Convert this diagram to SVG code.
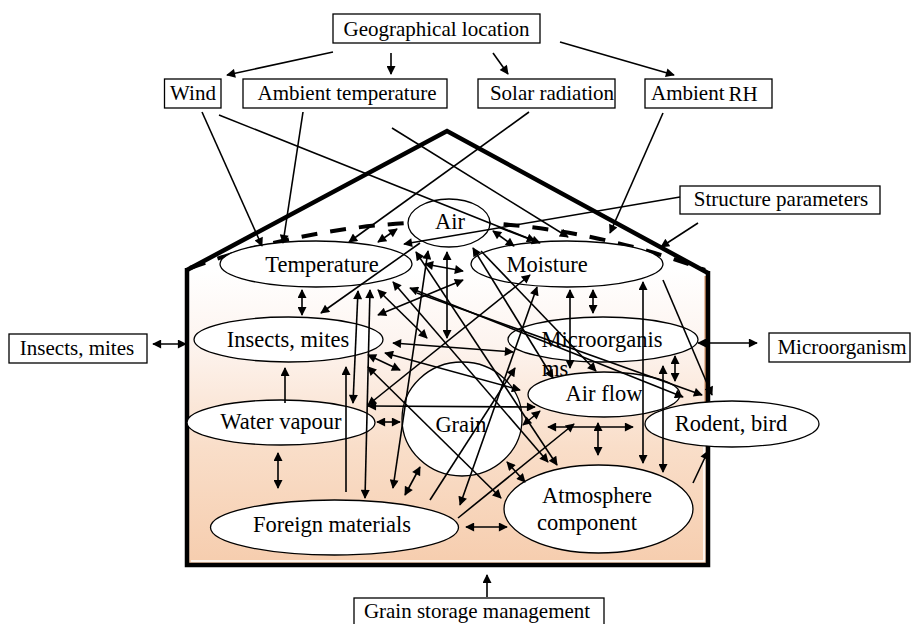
<svg xmlns="http://www.w3.org/2000/svg" width="911" height="624" viewBox="0 0 911 624">
<defs>
<style>
.lbl{font-family:"Liberation Serif","Times New Roman",serif;font-size:21px;fill:#000;text-anchor:middle}
.elb{font-size:22.5px}
.box{fill:#fff;stroke:#000;stroke-width:1.3}
.node ellipse{fill:#fff;stroke:#000;stroke-width:1.3}
#connectors line{stroke:#000;stroke-width:1.6;fill:none}
.e{marker-end:url(#ah)}
.d{marker-start:url(#ah);marker-end:url(#ah)}
</style>
<marker id="ah" viewBox="0 0 10 10" refX="9" refY="5" markerWidth="12" markerHeight="9" markerUnits="userSpaceOnUse" orient="auto-start-reverse">
<path d="M0,0 L10,5 L0,10 z" fill="#000"/>
</marker>
<linearGradient id="bg" x1="0" y1="0" x2="0" y2="1">
<stop offset="0" stop-color="#ffffff"/>
<stop offset="0.25" stop-color="#fdf4ef"/>
<stop offset="0.6" stop-color="#f9dec9"/>
<stop offset="1" stop-color="#f6cdae"/>
</linearGradient>
</defs>
<rect width="911" height="624" fill="#fff"/>

<g id="building">
<rect x="187" y="270" width="521" height="295" fill="url(#bg)"/>
<path d="M191,561 L704,561 L704,420" fill="none" stroke="#fff" stroke-width="1.5"/>
<path d="M705.5,276 L705.5,420" fill="none" stroke="#c8875a" stroke-width="2"/>
<path d="M187,270 L447,131 L708,273" fill="none" stroke="#000" stroke-width="4.5" stroke-linejoin="miter"/>
<path d="M187,268 L187,565 L708,565 L708,271" fill="none" stroke="#000" stroke-width="4.5"/>
<path d="M190,268 Q450,175 705,270" fill="none" stroke="#000" stroke-width="4" stroke-dasharray="16 13"/>
</g>

<g id="geo"><rect class="box" x="333" y="14" width="207" height="29"/><text class="lbl" x="436.5" y="36">Geographical location</text></g>
<g id="wind"><rect class="box" x="164.5" y="79" width="56.5" height="29"/><text class="lbl" x="193" y="100">Wind</text></g>
<g id="ambtemp"><rect class="box" x="243" y="79" width="204" height="29"/><text class="lbl" x="347" y="100">Ambient temperature</text></g>
<g id="solar"><rect class="box" x="478" y="79" width="137" height="29"/><text class="lbl" x="552" y="100">Solar radiation</text></g>
<g id="ambrh"><rect class="box" x="645" y="79" width="127" height="29"/><text class="lbl" x="651" y="100" style="text-anchor:start">Ambient<tspan dx="4" dy="1">RH</tspan></text></g>
<g id="struct"><rect class="box" x="680" y="186" width="200" height="28"/><text class="lbl" x="781" y="206">Structure parameters</text></g>
<g id="insectsbox"><rect class="box" x="9" y="334" width="138" height="29"/><text class="lbl" x="77" y="355">Insects, mites</text></g>
<g id="microbox"><rect class="box" x="769" y="333" width="141" height="29"/><text class="lbl" x="842" y="354">Microorganism</text></g>
<g id="mgmt"><rect class="box" x="354" y="598" width="250" height="32"/><text class="lbl" x="477" y="618">Grain storage management</text></g>

<g id="air" class="node"><ellipse cx="449" cy="223" rx="41" ry="24"/><text class="lbl elb" x="450" y="229">Air</text></g>
<g id="temperature" class="node"><ellipse cx="316" cy="264" rx="96" ry="23"/><text class="lbl elb" x="322" y="272">Temperature</text></g>
<g id="moisture" class="node"><ellipse cx="567" cy="264" rx="96" ry="23"/><text class="lbl elb" x="547" y="272">Moisture</text></g>
<g id="insects" class="node"><ellipse cx="288.5" cy="339.5" rx="94.5" ry="22.5"/><text class="lbl elb" x="288" y="347">Insects, mites</text></g>
<g id="water" class="node"><ellipse cx="281" cy="422.5" rx="94" ry="22.5"/><text class="lbl elb" x="281" y="429">Water vapour</text></g>
<g id="grain" class="node"><ellipse cx="462" cy="419" rx="60" ry="57"/><text class="lbl elb" x="461" y="432">Grain</text></g>
<g id="micro" class="node"><ellipse cx="603" cy="339.5" rx="95" ry="22.5"/><text class="lbl elb" x="602" y="347">Microorganis</text><text class="lbl elb" x="542" y="376" style="text-anchor:start">ms</text></g>
<g id="airflow" class="node"><ellipse cx="604" cy="394.5" rx="76" ry="22.5"/><text class="lbl elb" x="604" y="401">Air flow</text></g>
<g id="rodent" class="node"><ellipse cx="732" cy="424" rx="87" ry="23"/><text class="lbl elb" x="731" y="431">Rodent, bird</text></g>
<g id="foreign" class="node"><ellipse cx="334.5" cy="527.5" rx="124" ry="27.5"/><text class="lbl elb" x="332" y="532">Foreign materials</text></g>
<g id="atmos" class="node"><ellipse cx="598.5" cy="509" rx="94.5" ry="44"/><text class="lbl elb" x="597" y="503">Atmosphere</text><text class="lbl elb" x="587" y="530">component</text></g>

<g id="connectors">
<line class="e" x1="333" y1="52" x2="227" y2="75"/>
<line class="e" x1="391" y1="53" x2="391" y2="74"/>
<line class="e" x1="493" y1="53" x2="508" y2="74"/>
<line class="e" x1="560" y1="42" x2="674" y2="75"/>
<line class="e" x1="202" y1="112" x2="262" y2="246"/>
<line class="e" x1="219" y1="115" x2="535" y2="241"/>
<line class="e" x1="303" y1="112" x2="283" y2="243"/>
<line class="e" x1="392" y1="128" x2="568" y2="237"/>
<line class="e" x1="529" y1="112" x2="349" y2="242"/>
<line class="e" x1="663" y1="113" x2="610" y2="233"/>
<line class="e" x1="680" y1="197" x2="404" y2="244"/>
<line class="e" x1="698" y1="223" x2="661" y2="247"/>
<line class="d" x1="153" y1="344" x2="186" y2="344"/>
<line class="d" x1="698" y1="343" x2="757" y2="343"/>
<line class="e" x1="487" y1="597" x2="487" y2="575"/>

<line class="d" x1="302" y1="290" x2="302" y2="315"/>
<line class="e" x1="285" y1="403" x2="285" y2="368"/>
<line class="d" x1="278" y1="453" x2="278" y2="488"/>
<line class="d" x1="358" y1="291" x2="353" y2="403"/>
<line class="d" x1="370" y1="290" x2="365" y2="498"/>
<line class="e" x1="346" y1="492" x2="346" y2="367"/>
<line class="e" x1="420" y1="243" x2="321" y2="313"/>
<line class="d" x1="378" y1="242" x2="397" y2="229"/>
<line class="d" x1="493" y1="231" x2="514" y2="246"/>
<line class="e" x1="498" y1="227" x2="540" y2="243"/>
<line class="d" x1="447" y1="252" x2="447" y2="338"/>
<line class="d" x1="428" y1="251" x2="393" y2="488"/>
<line class="d" x1="425" y1="264" x2="463" y2="271"/>
<line class="d" x1="378" y1="315" x2="463" y2="280"/>
<line class="d" x1="378" y1="290" x2="427" y2="338"/>
<line class="d" x1="393" y1="282" x2="548" y2="462"/>
<line class="d" x1="368" y1="406" x2="535" y2="407"/>
<line class="d" x1="377" y1="422" x2="400" y2="422"/>
<line class="d" x1="393" y1="343" x2="513" y2="352"/>
<line class="d" x1="385" y1="353" x2="520" y2="390"/>
<line class="d" x1="368" y1="355" x2="400" y2="370"/>
<line class="d" x1="368" y1="367" x2="501" y2="498"/>
<line class="d" x1="368" y1="405" x2="530" y2="275"/>
<line class="d" x1="598" y1="423" x2="598" y2="455"/>
<line class="d" x1="548" y1="427" x2="633" y2="427"/>
<line class="d" x1="643" y1="282" x2="643" y2="463"/>
<line class="d" x1="663" y1="366" x2="663" y2="472"/>
<line class="d" x1="675" y1="356" x2="675" y2="381"/>
<line class="d" x1="570" y1="290" x2="570" y2="368"/>
<line class="d" x1="593" y1="290" x2="593" y2="313"/>
<line class="e" x1="663" y1="280" x2="712" y2="395"/>
<line class="d" x1="410" y1="288" x2="683" y2="397"/>
<line class="e" x1="417" y1="293" x2="702" y2="395"/>
<line class="e" x1="693" y1="483" x2="708" y2="451"/>
<line class="d" x1="466" y1="527" x2="507" y2="527"/>
<line class="e" x1="458" y1="518" x2="574" y2="424"/>
<line class="d" x1="507" y1="462" x2="525" y2="482"/>
<line class="d" x1="523" y1="425" x2="540" y2="411"/>
<line class="d" x1="405" y1="495" x2="420" y2="467"/>
<line class="d" x1="473" y1="248" x2="553" y2="378"/>
<line class="e" x1="481" y1="251" x2="596" y2="371"/>
<line class="d" x1="537" y1="287" x2="460" y2="505"/>
<line class="e" x1="430" y1="500" x2="515" y2="368"/>
<line class="d" x1="416" y1="252" x2="557" y2="465"/>
</g>
</svg>
